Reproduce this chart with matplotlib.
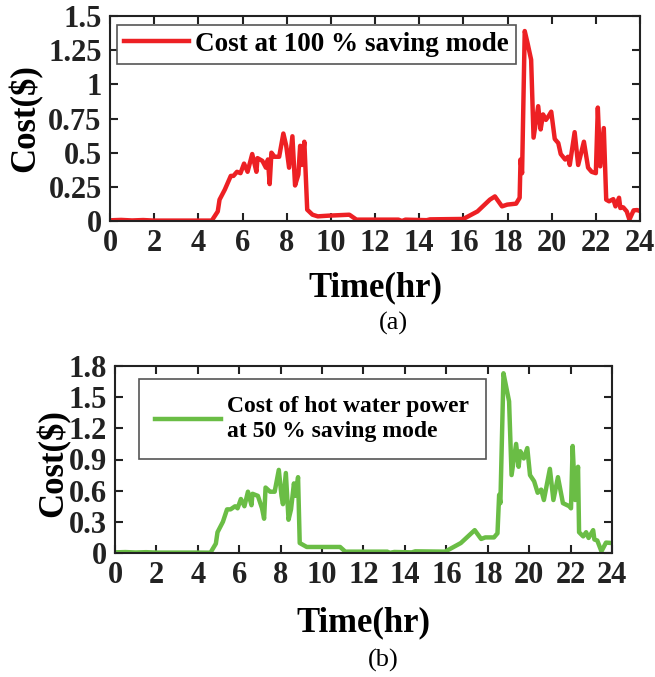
import matplotlib
matplotlib.use('Agg')
import matplotlib.pyplot as plt

# hours / cost
t_a = [0, 0.5, 1.0, 1.5, 2.0, 3.0, 4.0, 4.61,
       4.88, 4.96, 5.20, 5.47, 5.59, 5.75, 5.91, 6.07, 6.23, 6.44,
       6.63, 6.68, 6.90, 7.06, 7.15, 7.23, 7.31, 7.45, 7.66, 7.85,
       7.98, 8.11, 8.26, 8.38, 8.53, 8.61, 8.69, 8.80, 8.93,
       9.17, 9.41, 9.89, 10.84, 11.16,
       13.06, 13.22, 13.38, 14.34, 14.49,
       16.00, 16.64, 17.20, 17.43, 17.75, 17.99, 18.39, 18.55, 18.59, 18.66,
       18.78, 18.91, 19.07, 19.18, 19.39, 19.50, 19.61, 19.74, 19.87, 19.98,
       20.14, 20.30, 20.41, 20.61, 20.74, 20.82, 21.04, 21.20, 21.46, 21.65,
       21.81, 22.00, 22.09, 22.20, 22.36, 22.47, 22.60, 22.79, 22.89, 23.05,
       23.11, 23.24, 23.40, 23.52, 23.71, 23.87, 24.0]
cost_a = [0.005, 0.008, 0.004, 0.007, 0.003, 0.003, 0.003, 0.003,
          0.07, 0.156, 0.23, 0.33, 0.33, 0.36, 0.35, 0.42, 0.36, 0.49,
          0.36, 0.46, 0.44, 0.39, 0.45, 0.27, 0.50, 0.47, 0.47, 0.64,
          0.55, 0.39, 0.62, 0.26, 0.34, 0.55, 0.41, 0.58, 0.083,
          0.046, 0.034, 0.039, 0.046, 0.01,
          0.01, 0.0, 0.01, 0.006, 0.012,
          0.015, 0.07, 0.156, 0.18, 0.107, 0.12, 0.127, 0.17, 0.45, 0.35,
          1.39, 1.30, 1.18, 0.61, 0.84, 0.67, 0.78, 0.74, 0.77, 0.80,
          0.60, 0.57, 0.49, 0.45, 0.47, 0.41, 0.65, 0.41, 0.58, 0.39,
          0.36, 0.35, 0.83, 0.40, 0.68, 0.156, 0.144, 0.16, 0.107, 0.17,
          0.095, 0.10, 0.07, 0.01, 0.078, 0.08, 0.073]

t_b = [0, 0.5, 1.0, 1.5, 2.0, 3.0, 4.0, 4.61,
       4.87, 4.95, 5.21, 5.41, 5.58, 5.80, 5.92, 6.08, 6.25, 6.42,
       6.59, 6.64, 6.90, 7.10, 7.20, 7.27, 7.49, 7.71, 7.91, 8.04,
       8.11, 8.25, 8.38, 8.50, 8.64, 8.72, 8.84, 8.92, 9.26, 9.77,
       10.87, 11.12, 13.15, 13.23, 13.49, 14.33, 14.50, 15.94, 16.70, 17.37,
       17.68, 17.88, 18.30, 18.47, 18.55, 18.61, 18.76, 18.89, 19.03, 19.15,
       19.37, 19.49, 19.57, 19.74, 19.91, 20.04, 20.24, 20.41, 20.58, 20.71,
       21.00, 21.17, 21.39, 21.63, 21.94, 22.02, 22.10, 22.22, 22.36, 22.41,
       22.61, 22.75, 22.87, 23.09, 23.15, 23.29, 23.49, 23.71, 24.0]
cost_b = [0.006, 0.009, 0.005, 0.008, 0.004, 0.004, 0.004, 0.003,
          0.09, 0.20, 0.30, 0.42, 0.42, 0.45, 0.43, 0.52, 0.45, 0.59,
          0.46, 0.57, 0.55, 0.43, 0.33, 0.63, 0.59, 0.59, 0.80, 0.55,
          0.47, 0.77, 0.32, 0.42, 0.67, 0.55, 0.73, 0.096, 0.058, 0.058,
          0.058, 0.013, 0.013, 0.0, 0.01, 0.006, 0.016, 0.013, 0.096, 0.22,
          0.135, 0.15, 0.15, 0.19, 0.56, 0.48, 1.73, 1.60, 1.46, 0.75,
          1.05, 0.83, 0.98, 0.91, 1.01, 0.75, 0.69, 0.58, 0.61, 0.51,
          0.81, 0.51, 0.73, 0.48, 0.45, 0.43, 1.03, 0.51, 0.83, 0.20,
          0.16, 0.20, 0.145, 0.22, 0.13, 0.12, 0.016, 0.10, 0.096]

xticks = list(range(0, 25, 2))
yticks_a = [0, 0.25, 0.5, 0.75, 1, 1.25, 1.5]
yticklabels_a = ['0', '0.25', '0.5', '0.75', '1', '1.25', '1.5']
yticks_b = [0, 0.3, 0.6, 0.9, 1.2, 1.5, 1.8]
yticklabels_b = ['0', '0.3', '0.6', '0.9', '1.2', '1.5', '1.8']

label_a = 'Cost at 100 % saving mode'
label_b = 'Cost of hot water power\nat 50 % saving mode'

plt.rcParams['font.family'] = ['Liberation Serif', 'DejaVu Serif']
plt.rcParams['font.weight'] = 'bold'

W, H = 655, 677
fig = plt.figure(figsize=(W/100, H/100), dpi=100)

ax = fig.add_axes([110/W, 1-221/H, 530/W, 205/H])
ax2 = fig.add_axes([115/W, 1-553/H, 497/W, 187/H])


def style(a, yt, ytl, ymax):
    a.set_xlim(0, 24)
    a.set_ylim(0, ymax)
    a.set_xticks(xticks)
    a.set_yticks(yt)
    a.set_yticklabels(ytl)
    a.tick_params(direction='in', top=True, right=True, length=6, width=1.5,
                  labelsize=22, pad=6, colors='#222222')
    for s in a.spines.values():
        s.set_linewidth(1.5)
        s.set_color('#222222')
    a.set_ylabel('Cost($)', fontsize=25, fontweight='bold')
    a.set_xlabel('Time(hr)', fontsize=25, fontweight='bold')


ax.plot(t_a, cost_a, color='#ED2024', lw=3.2, label=label_a)
style(ax, yticks_a, yticklabels_a, 1.5)
ax.yaxis.set_label_coords(-0.128, 0.5)
ax.xaxis.set_label_coords(0.5, -0.245)
leg = ax.legend(loc='upper left', bbox_to_anchor=(0.013, 0.956), borderaxespad=0,
                fontsize=19.5, handlelength=2.4, handletextpad=0.25, borderpad=0.25,
                fancybox=False, edgecolor='#555555', framealpha=1)
leg.get_frame().set_linewidth(1.2)

ax2.plot(t_b, cost_b, color='#6ABD45', lw=3.2, label=label_b)
style(ax2, yticks_b, yticklabels_b, 1.8)
ax2.yaxis.set_label_coords(-0.09, 0.48)
ax2.xaxis.set_label_coords(0.5, -0.285)
leg2 = ax2.legend(loc='upper left', bbox_to_anchor=(0.048, 0.93), borderaxespad=0,
                  fontsize=17, handlelength=2.8, handletextpad=0.25, borderpad=0.7,
                  fancybox=False, edgecolor='#555555', framealpha=1)
leg2.get_frame().set_linewidth(1.2)
for txt in leg2.get_texts():
    txt.set_linespacing(1.3)

fig.text(393/W, 1-323/H, '(a)', fontsize=19, fontweight='normal', ha='center', va='center')
fig.text(383/W, 1-660/H, '(b)', fontsize=19, fontweight='normal', ha='center', va='center')

fig.savefig('out.png', dpi=100)
